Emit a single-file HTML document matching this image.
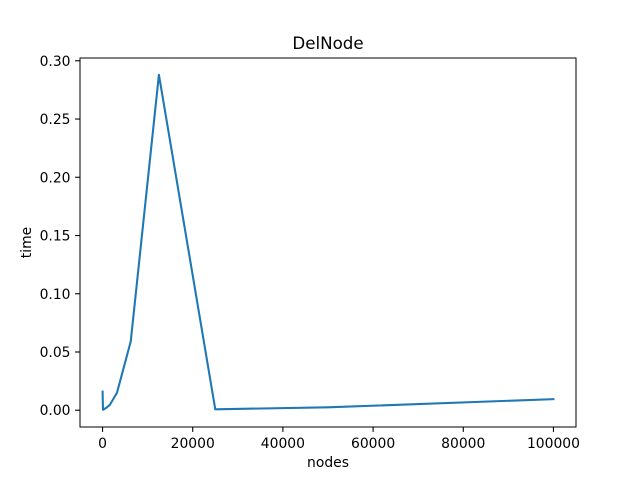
<!DOCTYPE html>
<html><head><meta charset="utf-8"><style>
body{margin:0;background:#fff;}
svg{display:block;font-family:"DejaVu Sans","Liberation Sans",sans-serif;}
</style></head><body>
<svg id="chart" width="640" height="480">
<rect width="640" height="480" fill="#fff"/>
<text x="328" y="49" font-size="16.7" text-anchor="middle">DelNode</text>
<g id="plot"></g>
<rect x="80" y="58" width="496" height="369" fill="none" stroke="#000" stroke-width="1"/>
<text x="328" y="467" font-size="13.9" text-anchor="middle">nodes</text>
<text transform="translate(31,242.5) rotate(-90)" font-size="13.9" text-anchor="middle">time</text>
</svg>
<script>
const nodes = [10, 100, 200, 400, 800, 1600, 3200, 6250, 12500, 25000, 50000, 100000];
const times = [0.016, 0.0003, 0.0005, 0.001, 0.002, 0.0045, 0.015, 0.059, 0.288, 0.0008, 0.0025, 0.0095];
const xTicks = [0, 20000, 40000, 60000, 80000, 100000];
const yTicks = [0.00, 0.05, 0.10, 0.15, 0.20, 0.25, 0.30];

const L=80,R=576,T=58,B=427;
const xmin=-5000,xmax=105000,ymin=-0.0144,ymax=0.3024;
const sx=v=>L+(v-xmin)/(xmax-xmin)*(R-L);
const sy=v=>B-(v-ymin)/(ymax-ymin)*(B-T);
const NS="http://www.w3.org/2000/svg";
const g=document.getElementById('plot');
function mk(t,a){const e=document.createElementNS(NS,t);for(const k in a)e.setAttribute(k,a[k]);g.appendChild(e);return e;}
xTicks.forEach(v=>{
  const x=sx(v);
  const t=mk('line',{x1:x,x2:x,y1:B,y2:B+4.9,stroke:'#000','stroke-width':1.1});
  
  
  const l=mk('text',{x:x,y:B+21,'font-size':13.9,'text-anchor':'middle'});
  l.textContent=String(v);
  
  
});
yTicks.forEach(v=>{
  const y=sy(v);
  const t=mk('line',{x1:L-4.9,x2:L,y1:y,y2:y,stroke:'#000','stroke-width':1.1});
  
  
  const l=mk('text',{x:L-9.5,y:y+5,'font-size':13.9,'text-anchor':'end'});
  l.textContent=v.toFixed(2);
  
  
});
const pts=nodes.map((n,i)=>sx(n).toFixed(2)+','+sy(times[i]).toFixed(2)).join(' ');
const line=mk('polyline',{points:pts,fill:'none',stroke:'#1f77b4','stroke-width':2.08,'stroke-linejoin':'round','stroke-linecap':'square'});


</script>
</body></html>
